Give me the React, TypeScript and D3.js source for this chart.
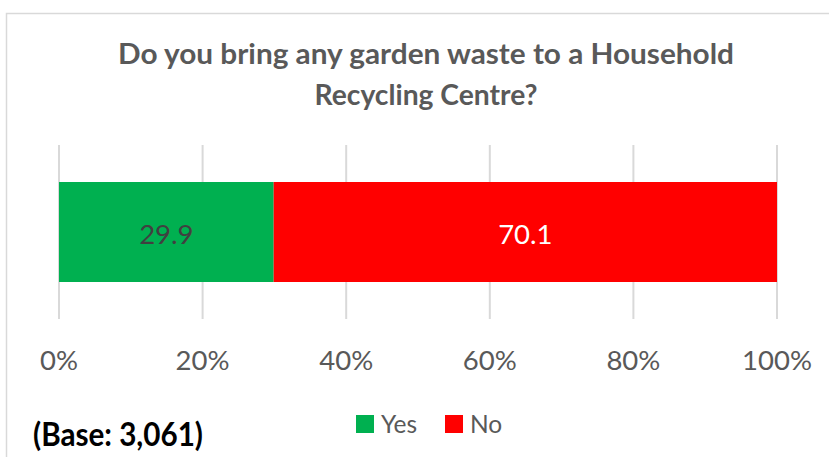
import React from "react";
import * as d3 from "d3";

const seriesNames = ["Yes", "No"];
const seriesValues = [29.9, 70.1];
const seriesColors = ["#00B050", "#FF0000"];
const labelColors = ["#404040", "#FFFFFF"];
const tickValues = [0, 20, 40, 60, 80, 100];
const titleLines = ["Do you bring any garden waste to a Household", "Recycling Centre?"];
const baseNote = "(Base: 3,061)";

const W = 829;
const H = 457;

export default function App() {
  const x = d3.scaleLinear().domain([0, 100]).range([59, 777]);
  const barTop = 182;
  const barH = 100;
  const stacked = seriesValues.map((v, i) => {
    const start = d3.sum(seriesValues.slice(0, i));
    return { name: seriesNames[i], v, start, end: start + v, color: seriesColors[i], lc: labelColors[i] };
  });
  const font = "Lato, 'Open Sans', sans-serif";
  const titleLens = [616, 223];
  return (
    <svg width={W} height={H} style={{ position: "absolute", left: 0, top: 0, display: "block" }}>
      <rect x={0} y={0} width={W} height={H} fill="#fff" />
      <rect x={6.5} y={13.5} width={W + 10} height={H + 10} fill="none" stroke="#D9D9D9" strokeWidth={1.5} />
      {titleLines.map((t, i) => (
        <text key={i} x={426} y={64 + i * 41} textAnchor="middle" fontFamily={font} fontWeight={700} fontSize={29} fill="#595959"
          textLength={titleLens[i]} lengthAdjust="spacingAndGlyphs">
          {t}
        </text>
      ))}
      {tickValues.map((t) => (
        <line key={t} x1={x(t)} x2={x(t)} y1={145} y2={319} stroke="#D9D9D9" strokeWidth={2} />
      ))}
      {stacked.map((s) => (
        <rect key={s.name} x={x(s.start)} y={barTop} width={x(s.end) - x(s.start)} height={barH} fill={s.color} />
      ))}
      {stacked.map((s) => (
        <text key={s.name + "l"} x={(x(s.start) + x(s.end)) / 2} y={243.5} textAnchor="middle" fontFamily={font} fontSize={27.5} fill={s.lc}>
          {s.v.toFixed(1)}
        </text>
      ))}
      {tickValues.map((t) => (
        <text key={t + "t"} x={x(t)} y={370} textAnchor="middle" fontFamily={font} fontSize={27.5} fill="#595959">
          {t}%
        </text>
      ))}
      {/* legend */}
      <rect x={356} y={415} width={18} height={18} fill={seriesColors[0]} />
      <text x={381} y={433} fontFamily={font} fontSize={24.5} fill="#595959">{seriesNames[0]}</text>
      <rect x={445} y={415} width={18} height={18} fill={seriesColors[1]} />
      <text x={470} y={433} fontFamily={font} fontSize={24.5} fill="#595959">{seriesNames[1]}</text>
      <text x={33} y={445.5} fontFamily={font} fontWeight={700} fontSize={32} fill="#000" textLength={170} lengthAdjust="spacingAndGlyphs">
        {baseNote}
      </text>
    </svg>
  );
}
